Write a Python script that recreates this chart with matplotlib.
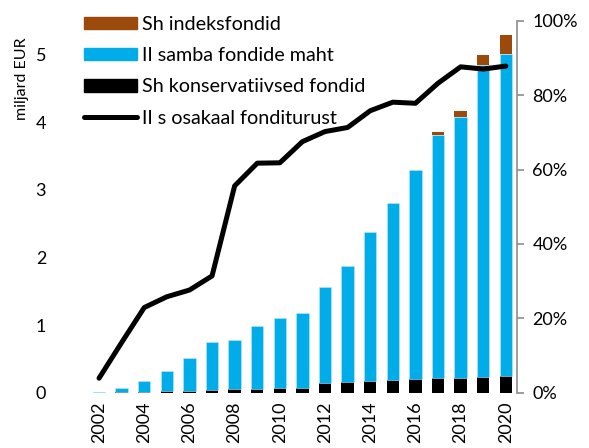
import numpy as np
import matplotlib.pyplot as plt
from matplotlib.patches import Patch
from matplotlib.lines import Line2D

plt.rcParams['font.family'] = ['Lato', 'DejaVu Sans']

# andmed (loetud jooniselt)
AASTAD = np.arange(2002, 2021)
KONSERVATIIVSED = [0.0, 0.005, 0.01, 0.02, 0.03, 0.04, 0.055, 0.055, 0.075, 0.075,
                   0.145, 0.165, 0.18, 0.19, 0.21, 0.22, 0.22, 0.225, 0.25]
MAHT = [0.01, 0.065, 0.17, 0.32, 0.51, 0.75, 0.78, 0.98, 1.10, 1.18,
        1.57, 1.88, 2.38, 2.81, 3.30, 3.81, 4.08, 4.84, 5.01]
INDEKS = [0, 0, 0, 0, 0, 0, 0, 0, 0, 0, 0, 0, 0, 0, 0, 0.04, 0.09, 0.15, 0.28]
OSAKAAL = [3.9, 13.5, 22.9, 25.8, 27.6, 31.4, 55.6, 61.7, 61.8, 67.5,
           70.2, 71.3, 75.8, 78.1, 77.8, 83.2, 87.6, 87.0, 87.8]

SININE = '#00ADE9'
PRUUN = '#9C4A0C'

kons = np.array(KONSERVATIIVSED)
maht = np.array(MAHT)
indeks = np.array(INDEKS)

fig = plt.figure(figsize=(5.89, 4.48), dpi=100)
ax = fig.add_axes([0.149, 0.1234, 0.729, 0.8304])
W = 0.55
ax.bar(AASTAD, kons, W, color='black', zorder=2)
ax.bar(AASTAD, maht - kons, W, bottom=kons, color=SININE, edgecolor='#BFE8F8', linewidth=0.4, zorder=2)
ax.bar(AASTAD, indeks, W, bottom=maht, color=PRUUN, zorder=2)

ax.set_xlim(2001.5, 2020.5)
ax.set_ylim(0, 5.5)
ax.set_yticks([0, 1, 2, 3, 4, 5])
ax.set_xticks(AASTAD[::2])
ax.set_xticklabels([str(a) for a in AASTAD[::2]], rotation=90)
ax.tick_params(axis='both', length=0, labelsize=13, colors='black')
ax.tick_params(axis='y', pad=30)
ax.tick_params(axis='x', pad=6)
for s in ['top', 'right', 'left', 'bottom']:
    ax.spines[s].set_visible(False)
fig.text(0.037, 0.825, 'miljard EUR', rotation=90, ha='center', va='center', fontsize=11.5)

ax2 = ax.twinx()
ax2.plot(AASTAD, np.array(OSAKAAL) / 100, color='black', linewidth=3.6, solid_capstyle='round', zorder=3)
ax2.set_ylim(0, 1)
ax2.set_yticks(np.arange(0, 1.01, 0.2))
ax2.set_yticklabels(['0%', '20%', '40%', '60%', '80%', '100%'])
ax2.tick_params(axis='y', length=5, width=1.2, color='#8C8C8C', labelsize=13, pad=6)
for s in ['top', 'left', 'bottom']:
    ax2.spines[s].set_visible(False)
ax2.spines['right'].set_color('#8C8C8C')
ax2.spines['right'].set_linewidth(1.2)

kaepidemed = [Patch(color=PRUUN), Patch(color=SININE), Patch(color='black'),
              Line2D([0], [0], color='black', linewidth=3.6, solid_capstyle='round')]
sildid = ['Sh indeksfondid', 'II samba fondide maht', 'Sh konservatiivsed fondid', 'II s osakaal fonditurust']
leg = ax2.legend(kaepidemed, sildid, loc='upper left', bbox_to_anchor=(-0.026, 1.034), frameon=False,
                 fontsize=14.2, handlelength=2.64, handleheight=0.6, labelspacing=0.72, handletextpad=0.3,
                 borderaxespad=0)

plt.savefig('out.png', dpi=100)
